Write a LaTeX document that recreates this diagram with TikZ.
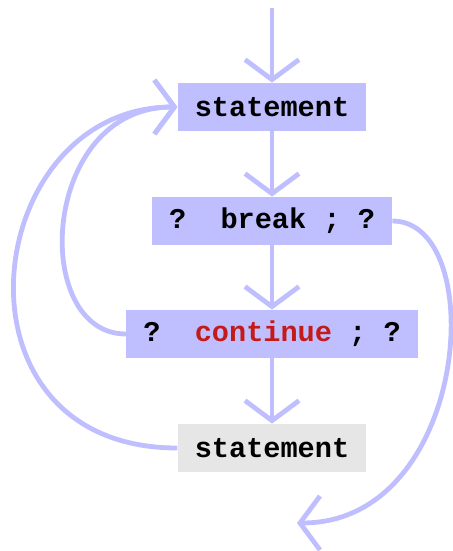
\documentclass[tikz,border=0pt]{standalone}
\usepackage{fontspec}
\usepackage{xcolor}
\usepackage{tikz}
\usetikzlibrary{arrows.meta,positioning}
\setmonofont{Liberation Mono}
\definecolor{flowblue}{HTML}{BFBFFF}
\definecolor{flowgray}{HTML}{E6E6E6}
\definecolor{kwred}{HTML}{C41A1A}
\tikzset{
  stmt/.style={fill=flowblue,inner xsep=8.5pt,inner ysep=0pt,minimum height=24pt,font=\ttfamily\bfseries\fontsize{14.3}{16}\selectfont},
  last/.style={stmt,fill=flowgray},
  ar/.style={-{Straight Barb[length=10pt,width=27pt]},draw=flowblue,line width=2.4pt},
}

\begin{document}
\begin{tikzpicture}[x=0.5pt,y=-0.5pt]
  \useasboundingbox (0,0) rectangle (453,551);
  \coordinate (in) at (272,8);
  \coordinate (out) at (297,523);
  \node[stmt] (body) at (272,107) {statement};
  \node[stmt] (brk) at (272,221) {?~~break~;~?};
  \node[stmt] (cont) at (272,334) {?~~\textcolor{kwred}{continue}~;~?};
  \node[last] (next) at (272,448) {statement};
  \draw[ar] (in) -- (body);
  \draw[ar] (body) -- (brk);
  \draw[ar] (brk) -- (cont);
  \draw[ar] (cont) -- (next);
  % loops back and the jump out
  \draw[ar] (cont.west) .. controls (30,334) and (40,107) .. (body.west);
  \draw[ar] (next.west) .. controls (-60,448) and (-20,107) .. (body.west);
  \draw[ar] (brk.east) .. controls (490,221) and (470,523) .. (out);
\end{tikzpicture}
\end{document}
